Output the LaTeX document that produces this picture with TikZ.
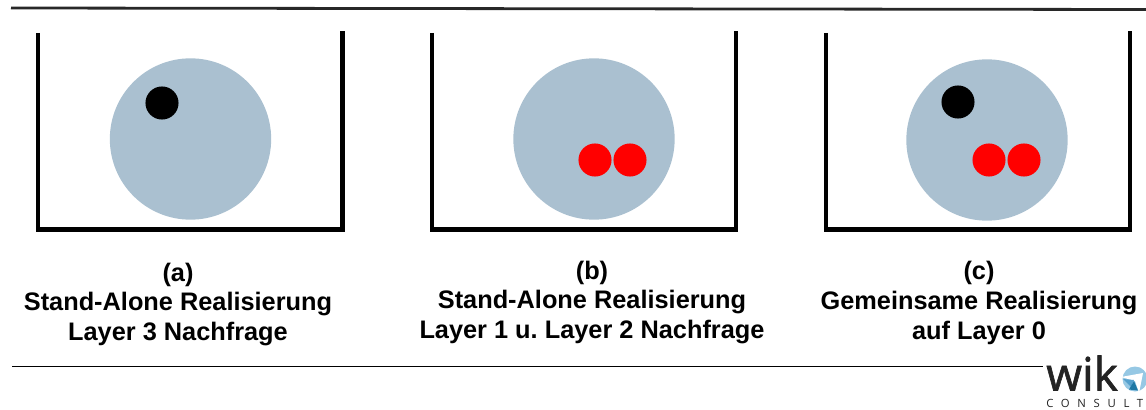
\documentclass[tikz,border=0pt]{standalone}
\usepackage{fontspec}
\setmainfont{Liberation Sans}
\newfontfamily\logofont{Open Sans}
\newfontfamily\logoheavy[FakeBold=1.4]{Open Sans}
\definecolor{disc}{RGB}{170,192,208}
\definecolor{ruleg}{RGB}{40,40,40}
\definecolor{logoa}{RGB}{150,200,228}
\definecolor{logom}{RGB}{85,160,205}
\definecolor{logob}{RGB}{30,120,165}
\definecolor{logot}{RGB}{35,35,35}
\tikzset{
  tub/.style={draw=black,line width=3.1pt,line join=miter,line cap=butt},
  disk/.style={circle,fill=disc,minimum size=121pt,inner sep=0pt,outer sep=0pt},
  dotblack/.style={circle,fill=black,minimum size=24.8pt,inner sep=0pt},
  dotred/.style={circle,fill=red,minimum size=24.8pt,inner sep=0pt},
  captext/.style={align=center,font=\bfseries\fontsize{19}{22.4}\selectfont,inner sep=0pt},
}
\begin{document}
\frenchspacing
\begin{tikzpicture}[x=0.75pt,y=-0.75pt]
\useasboundingbox (0,0) rectangle (1146,410);
\coordinate (t1) at (11,8); \coordinate (t2) at (1146,9.5);
\draw[ruleg,line width=2.1pt] (t1) -- (t2);
\coordinate (b1) at (12,366); \coordinate (b2) at (1043,366);
\draw[black,line width=0.75pt] (b1) -- (b2);
\draw[tub] (38,33) -- (38,229.5) -- (342.5,229.5) -- (342.5,31);
\draw[tub] (432,33) -- (432,229.5) -- (736,229.5) -- (736,31);
\draw[tub] (826,33) -- (826,229.5) -- (1130,229.5) -- (1130,31);
\node[disk] (da) at (190.5,139) {};
\node[disk] (db) at (594,139) {};
\node[disk] (dc) at (987,140) {};
\node[dotblack] (ka) at (162,103) {};
\node[dotred] (r1b) at (595,160) {};
\node[dotred] (r2b) at (630,160) {};
\node[dotblack] (kc) at (958,102) {};
\node[dotred] (r1c) at (989,160) {};
\node[dotred] (r2c) at (1024,160) {};
\node[captext] (ca) at (178,304.5) {(a)\\Stand-Alone Realisierung\\Layer 3 Nachfrage};
\node[captext] (cb) at (592,302.5) {(b)\\Stand-Alone Realisierung\\Layer 1 u. Layer 2 Nachfrage};
\node[captext] (cc) at (979,303) {(c)\\Gemeinsame Realisierung\\auf Layer 0};
\node[anchor=base west,inner sep=0pt,text=logot,font=\logoheavy\fontsize{34.5}{35}\selectfont] (wik) at (1046,390.5) {wik};
\node[anchor=base west,inner sep=0pt,text=logot,font=\logofont\fontsize{8.5}{10}\selectfont] (cons) at (1046,407) {\addfontfeature{LetterSpace=68}CONSULT};
\begin{scope}
\clip (1120,360) rectangle (1146,400);
\fill[logoa] (1135,379) circle (12.5);
\fill[white] (1121,377) -- (1143,373) -- (1139,393) -- (1135,381) -- cycle;
\fill[logom] (1123,379) -- (1134,380) -- (1131,387) -- cycle;
\fill[logob] (1129,389.5) -- (1134,381) -- (1138,390.5) -- cycle;
\end{scope}
\end{tikzpicture}
\end{document}
